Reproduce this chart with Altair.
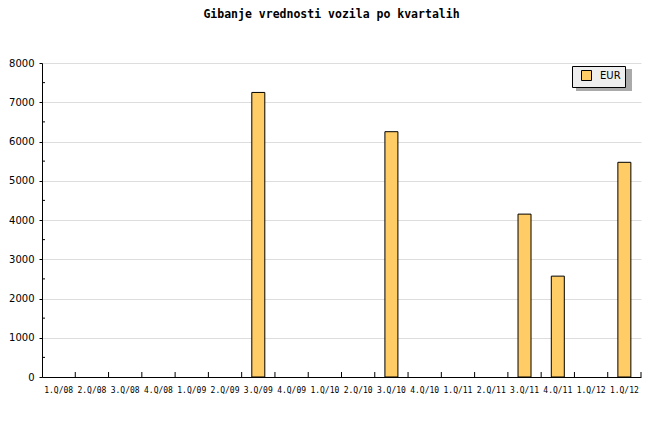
import altair as alt
import pandas as pd

QUARTERS = ["1.Q/08", "2.Q/08", "3.Q/08", "4.Q/08", "1.Q/09", "2.Q/09", "3.Q/09", "4.Q/09",
            "1.Q/10", "2.Q/10", "3.Q/10", "4.Q/10", "1.Q/11", "2.Q/11", "3.Q/11", "4.Q/11",
            "1.Q/12", "1.Q/12"]
EUR = [0, 0, 0, 0, 0, 0, 7250, 0, 0, 0, 6250, 0, 0, 0, 4150, 2570, 0, 5470]
MINOR_TICKS = [500, 1500, 2500, 3500, 4500, 5500, 6500, 7500]
Y_TICKS = [0, 1000, 2000, 3000, 4000, 5000, 6000, 7000, 8000]

W, H = 599, 314
BAR = "#FFCC66"

df = pd.DataFrame({"i": list(range(len(QUARTERS))), "label": QUARTERS, "value": EUR, "series": "EUR"})
minor_df = pd.DataFrame({"v": MINOR_TICKS})

label_arr = "[" + ",".join("'" + q + "'" for q in QUARTERS) + "]"

yscale = alt.Scale(domain=[0, 8000], nice=False)
xscale = alt.Scale(paddingInner=0, paddingOuter=0)

x_axis = alt.Axis(labelExpr=label_arr + "[datum.value]", labelAngle=0, ticks=False,
                  labelFont="DejaVu Sans Mono", labelFontSize=8, labelColor="black",
                  labelPadding=9, domainColor="black", domainWidth=1, grid=False)
y_axis = alt.Axis(values=Y_TICKS, format="d", tickSize=3, tickColor="black", labelPadding=5,
                  labelFont="DejaVu Sans", labelFontSize=10, labelColor="black",
                  domainColor="black", gridColor="#dddddd", gridWidth=1)

bars = alt.Chart(df).transform_filter("datum.value > 0").mark_bar(
    size=13, stroke="black", strokeWidth=1, opacity=1).encode(
    x=alt.X("i:O", title=None, scale=xscale, axis=x_axis),
    y=alt.Y("value:Q", title=None, scale=yscale, axis=y_axis),
    color=alt.Color("series:N", title=None,
                    scale=alt.Scale(domain=["EUR"], range=[BAR]),
                    legend=alt.Legend(orient="none", legendX=530, legendY=3,
                                      fillColor="#eeeeee", strokeColor="black",
                                      padding=4, symbolType="square", symbolSize=100,
                                      symbolStrokeColor="black", symbolStrokeWidth=1,
                                      symbolOpacity=1, symbolFillColor=BAR,
                                      labelFont="DejaVu Sans", labelFontSize=10,
                                      labelExpr="datum.label + '   '",
                                      labelColor="black", symbolOffset=5, labelOffset=8)),
)

xticks = alt.Chart(df).mark_rule(color="black", strokeWidth=1).encode(
    x=alt.X("i:O", bandPosition=1, title=None, scale=xscale, axis=x_axis),
    y=alt.value(H - 5),
    y2=alt.value(H),
)

yminor = alt.Chart(minor_df).mark_rule(color="black", strokeWidth=1).encode(
    y=alt.Y("v:Q", title=None, scale=yscale, axis=y_axis),
    x=alt.value(0),
    x2=alt.value(3),
)

shadow = alt.Chart(df).mark_rect(color="#aaaaaa").encode(
    x=alt.value(534), x2=alt.value(590), y=alt.value(6), y2=alt.value(28),
)

chart = alt.layer(shadow, bars, xticks, yminor).properties(
    width=W, height=H,
    padding={"left": 0, "top": 0, "right": 5, "bottom": 5},
    title=alt.Title("Gibanje vrednosti vozila po kvartalih", font="DejaVu Sans Mono",
                    fontSize=11.5, fontWeight="bold", color="black", offset=38, dx=-10),
).configure_view(stroke=None).configure_axis(labelFlush=False)

chart.save("out.html", embed_options={"renderer": "svg", "actions": False})
